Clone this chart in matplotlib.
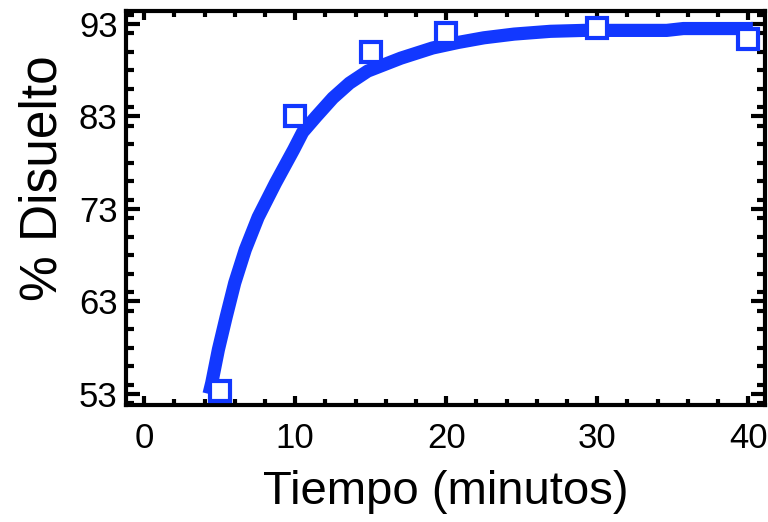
import matplotlib
matplotlib.use("Agg")
import matplotlib.pyplot as plt
from matplotlib.ticker import MultipleLocator

plt.rcParams['font.family'] = ['Liberation Sans Narrow', 'Liberation Sans', 'DejaVu Sans']

# measured points
time_pts = [5, 10, 15, 20, 30, 40]
dissolved_pts = [53.3, 83.0, 90.0, 92.0, 92.6, 91.4]

# fitted curve
curve_t = [4.3, 4.48, 4.92, 5.43, 6.0, 6.7, 7.55, 8.7, 9.9, 10.5, 11.4, 12.5, 13.6,
           14.8, 17.0, 19.1, 20.8, 22.5, 24.5, 26.9, 29.1, 31.5, 34.6, 35.7, 38.0, 40.3]
curve_y = [53.0, 54.2, 57.8, 61.3, 65.0, 68.6, 72.1, 75.8, 79.4, 81.3, 83.0, 85.0, 86.6,
           87.9, 89.3, 90.4, 91.0, 91.5, 91.9, 92.2, 92.3, 92.3, 92.3, 92.5, 92.5, 92.5]

xticks = [0, 10, 20, 30, 40]
yticks = [53, 63, 73, 83, 93]

blue = '#1238ff'

fig = plt.figure(figsize=(7.68, 5.22), dpi=100)
ax = fig.add_axes([0.164, 0.224, 0.832, 0.755])

ax.plot(curve_t, curve_y, color=blue, lw=9.5, solid_capstyle='butt',
        solid_joinstyle='round', zorder=2)
ax.plot(time_pts, dissolved_pts, ls='none', marker='s', ms=14, mfc='white',
        mec=blue, mew=3, zorder=3)

ax.set_xlim(-1.2, 41.1)
ax.set_ylim(51.8, 94.4)
ax.set_xticks(xticks)
ax.set_yticks(yticks)
ax.xaxis.set_minor_locator(MultipleLocator(2))
ax.yaxis.set_minor_locator(MultipleLocator(2))

for s in ax.spines.values():
    s.set_linewidth(3)

ax.tick_params(axis='both', which='both', direction='in', top=True, right=True, width=3)
ax.tick_params(axis='x', which='major', length=6.5, pad=12, labelsize=25)
ax.tick_params(axis='x', which='minor', length=4)
ax.tick_params(axis='y', which='major', length=10, pad=6, labelsize=25)
ax.tick_params(axis='y', which='minor', length=6)

ax.set_xlabel('Tiempo (minutos)', fontsize=34, labelpad=11)
ax.set_ylabel('% Disuelto', fontsize=37, labelpad=8)
ax.yaxis.label.set_y(0.576)

fig.savefig('out.png', dpi=100)
